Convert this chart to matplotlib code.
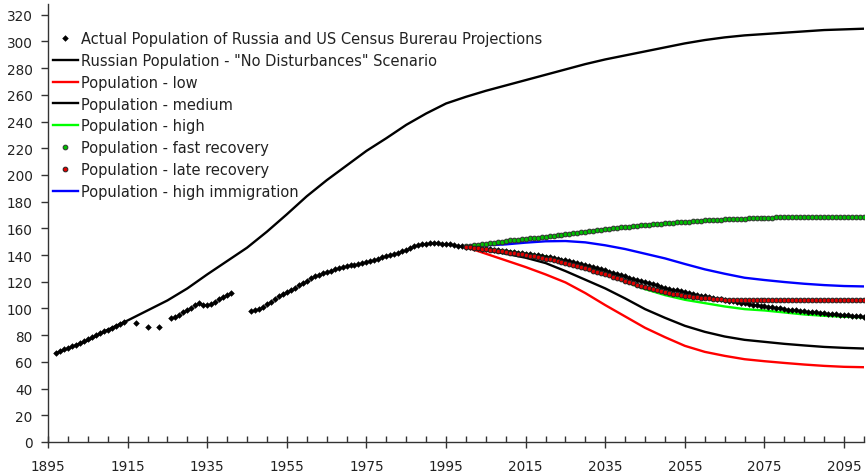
import matplotlib
matplotlib.use("Agg")
import matplotlib.pyplot as plt
from matplotlib.ticker import MultipleLocator, FixedLocator

plt.rcParams['font.family'] = ['DejaVu Sans']

# ---------------- data ----------------
# Actual population (dots) 1897-1999 with gaps, then US Census projection 2000-2100
actual_years = (list(range(1897, 1915)) + [1917, 1920, 1923] + list(range(1926, 1942))
                + list(range(1946, 2000)) + list(range(2000, 2101)))
actual_vals = [
    67.0, 68.2, 69.4, 70.6, 71.8, 73.0, 74.3, 75.6, 77.0, 78.4, 79.8, 81.3, 82.8, 84.2, 85.6, 87.0, 88.4, 89.7,
    89.3, 86.2, 86.2,
    92.8, 93.3, 95.0, 97.0, 98.6, 100.5, 102.8, 104.3, 102.8, 102.3, 103.5, 105.0, 106.8, 108.5, 110.0, 111.7,
    97.8, 98.8, 99.8, 101.3, 103.0, 105.0, 107.0, 109.0, 110.8, 112.5,
    114.0, 115.6, 117.3, 119.0, 120.8, 122.5, 124.0, 125.4, 126.6, 127.5,
    128.3, 129.2, 130.0, 130.8, 131.6, 132.3, 132.9, 133.5, 134.1, 134.9,
    135.7, 136.5, 137.4, 138.2, 139.0, 139.8, 140.6, 141.7, 142.9, 144.1,
    145.5, 146.6, 147.4, 148.1, 148.6, 148.9, 149.0, 148.9, 148.6, 148.3,
    147.9, 147.5, 147.1, 146.7,
    146.3, 146.0, 145.6, 145.2, 144.8, 144.5, 144.2, 143.9, 143.6, 143.3,
    143.0, 142.6, 142.3, 141.9, 141.5, 141.1, 140.7, 140.3, 139.9, 139.4,
    138.9, 138.4, 137.8, 137.2, 136.6, 136.0, 135.3, 134.6, 133.9, 133.2,
    132.5, 131.7, 130.9, 130.1, 129.3, 128.5, 127.6, 126.7, 125.8, 124.9,
    124.0, 123.1, 122.2, 121.4, 120.5, 119.7, 118.8, 118.0, 117.2, 116.4,
    115.6, 114.9, 114.2, 113.5, 112.8, 112.1, 111.5, 110.9, 110.3, 109.7,
    109.1, 108.5, 108.0, 107.4, 106.9, 106.3, 105.8, 105.3, 104.8, 104.3,
    103.8, 103.3, 102.9, 102.4, 102.0, 101.6, 101.2, 100.8, 100.4, 100.0,
    99.6, 99.2, 98.9, 98.5, 98.2, 97.9, 97.6, 97.3, 97.0, 96.7,
    96.4, 96.1, 95.8, 95.6, 95.3, 95.1, 94.8, 94.6, 94.3, 94.1,
    93.9,
]

# "No Disturbances" scenario
nd_years = [1897, 1900, 1905, 1910, 1915, 1920, 1925, 1930, 1935, 1940, 1945, 1950, 1955,
            1960, 1965, 1970, 1975, 1980, 1985, 1990, 1995, 2000, 2005, 2010, 2015, 2020,
            2025, 2030, 2035, 2040, 2045, 2050, 2055, 2060, 2065, 2070, 2075, 2080, 2085,
            2090, 2095, 2100]
nd_vals = [66.5, 70.0, 76.0, 84.0, 91.0, 98.5, 106.0, 115.0, 125.5, 135.5, 145.5, 157.5, 170.5,
           184.0, 196.0, 207.0, 218.0, 227.5, 237.5, 246.0, 253.5, 258.5, 263.0, 267.0, 271.0, 275.0,
           279.0, 283.0, 286.5, 289.5, 292.5, 295.5, 298.5, 301.0, 303.0, 304.5, 305.5, 306.5, 307.5,
           308.5, 309.0, 309.5]

proj_years = [2000, 2005, 2010, 2015, 2020, 2025, 2030, 2035, 2040, 2045, 2050,
              2055, 2060, 2065, 2070, 2075, 2080, 2085, 2090, 2095, 2100]
low_vals = [146.0, 141.0, 136.0, 131.0, 125.5, 119.5, 111.5, 102.5, 94.0, 85.5, 78.5,
            72.0, 67.5, 64.5, 62.0, 60.5, 59.2, 58.0, 57.0, 56.3, 56.0]
medium_vals = [146.0, 143.5, 141.0, 138.0, 134.0, 128.0, 121.5, 115.0, 107.5, 99.5, 93.0,
               87.0, 82.5, 79.0, 76.5, 75.0, 73.5, 72.3, 71.2, 70.5, 70.0]
high_vals = [146.0, 144.5, 143.0, 141.0, 139.0, 135.5, 131.5, 126.0, 120.0, 114.5, 110.0,
             106.5, 104.0, 101.5, 99.5, 98.5, 97.0, 95.5, 94.5, 93.8, 93.3]
immig_vals = [146.5, 147.3, 148.0, 149.3, 150.3, 150.5, 149.5, 147.3, 144.5, 141.0, 137.5,
              133.3, 129.3, 126.0, 123.0, 121.3, 119.8, 118.5, 117.5, 116.8, 116.5]

rec_years = list(range(2000, 2101))
fast_vals = [
    146.5, 146.9, 147.3, 147.7, 148.1, 148.5, 148.9, 149.3, 149.7, 150.1,
    150.5, 150.9, 151.3, 151.6, 151.9, 152.2, 152.5, 152.8, 153.1, 153.4,
    153.7, 154.0, 154.4, 154.7, 155.1, 155.5, 155.9, 156.3, 156.7, 157.1,
    157.5, 157.9, 158.3, 158.6, 159.0, 159.3, 159.7, 160.0, 160.3, 160.7,
    161.0, 161.3, 161.6, 161.9, 162.2, 162.5, 162.8, 163.0, 163.3, 163.5,
    163.8, 164.0, 164.3, 164.5, 164.7, 164.9, 165.1, 165.3, 165.5, 165.7,
    165.9, 166.0, 166.2, 166.4, 166.5, 166.7, 166.8, 167.0, 167.1, 167.2,
    167.3, 167.5, 167.6, 167.7, 167.8, 167.9, 168.0, 168.1, 168.2, 168.2,
    168.3, 168.4, 168.4, 168.5, 168.5, 168.6, 168.6, 168.6, 168.7, 168.7,
    168.7, 168.7, 168.8, 168.8, 168.8, 168.8, 168.8, 168.8, 168.8, 168.8,
    168.8,
]
late_vals = [
    146.3, 145.9, 145.5, 145.1, 144.7, 144.3, 143.9, 143.5, 143.1, 142.7,
    142.3, 141.9, 141.5, 141.0, 140.5, 140.0, 139.5, 139.0, 138.5, 137.9,
    137.3, 136.7, 136.1, 135.5, 134.8, 134.1, 133.4, 132.6, 131.8, 131.0,
    130.2, 129.3, 128.4, 127.5, 126.6, 125.7, 124.7, 123.7, 122.7, 121.7,
    120.7, 119.7, 118.7, 117.8, 116.9, 116.0, 115.2, 114.4, 113.6, 112.9,
    112.2, 111.6, 111.0, 110.5, 110.0, 109.6, 109.2, 108.8, 108.4, 108.1,
    107.8, 107.5, 107.2, 107.0, 106.8, 106.6, 106.5, 106.5, 106.5, 106.5,
    106.5, 106.5, 106.5, 106.5, 106.5, 106.5, 106.5, 106.5, 106.5, 106.5,
    106.5, 106.5, 106.5, 106.5, 106.5, 106.5, 106.5, 106.5, 106.5, 106.5,
    106.5, 106.5, 106.5, 106.5, 106.5, 106.5, 106.5, 106.5, 106.5, 106.5,
    106.5,
]

labels = [
    'Actual Population of Russia and US Census Burerau Projections',
    'Russian Population - "No Disturbances" Scenario',
    'Population - low',
    'Population - medium',
    'Population - high',
    'Population - fast recovery',
    'Population - late recovery',
    'Population - high immigration',
]

# ---------------- figure ----------------
W, H = 866, 477
fig = plt.figure(figsize=(W / 100, H / 100), dpi=100)
ax = fig.add_axes([48 / W, 1 - 443 / H, (864 - 48) / W, (443 - 5) / H])

lw = 1.7
h_nd, = ax.plot(nd_years, nd_vals, color='black', lw=lw, zorder=3)
h_low, = ax.plot(proj_years, low_vals, color='#FF0000', lw=lw, zorder=3)
h_med, = ax.plot(proj_years, medium_vals, color='black', lw=lw, zorder=3)
h_high, = ax.plot(proj_years, high_vals, color='#00FF00', lw=lw, zorder=3)
h_imm, = ax.plot(proj_years, immig_vals, color='#0000FF', lw=lw, zorder=3)
h_act, = ax.plot(actual_years, actual_vals, ls='none', marker='D', ms=2.9,
                 mfc='black', mec='black', mew=0.4, zorder=4)
h_fast, = ax.plot(rec_years, fast_vals, ls='none', marker='o', ms=3.4,
                  mfc='#00C000', mec='#303030', mew=0.7, zorder=5)
h_late, = ax.plot(rec_years, late_vals, ls='none', marker='o', ms=3.4,
                  mfc='#E00000', mec='#202020', mew=0.7, zorder=5)

ax.set_xlim(1895, 2100)
ax.set_ylim(0, 328)

for s in ['top', 'right']:
    ax.spines[s].set_visible(False)
for s in ['left', 'bottom']:
    ax.spines[s].set_color('#333333')
    ax.spines[s].set_linewidth(1.0)

ax.xaxis.set_major_locator(FixedLocator(list(range(1895, 2101, 20))))
ax.xaxis.set_minor_locator(MultipleLocator(5))
ax.yaxis.set_major_locator(FixedLocator(list(range(0, 321, 20))))
ax.tick_params(axis='x', which='major', direction='inout', length=8, width=1,
               color='#333333', labelsize=9.8, pad=8, labelcolor='#222222')
ax.tick_params(axis='x', which='minor', direction='in', length=4, width=1, color='#333333')
ax.tick_params(axis='y', which='major', direction='out', length=5, width=1,
               color='#333333', labelsize=9.8, pad=6, labelcolor='#222222')

leg = ax.legend([h_act, h_nd, h_low, h_med, h_high, h_fast, h_late, h_imm], labels,
                loc='upper left', bbox_to_anchor=(53 / W, 1 - 32 / H),
                bbox_transform=fig.transFigure, frameon=False, fontsize=10.5,
                handlelength=1.7, handletextpad=0.25, labelspacing=0.47,
                borderpad=0, borderaxespad=0, numpoints=1, markerscale=1.0)
for t in leg.get_texts():
    t.set_color('#222222')

fig.savefig('out.png', dpi=100, facecolor='white')
